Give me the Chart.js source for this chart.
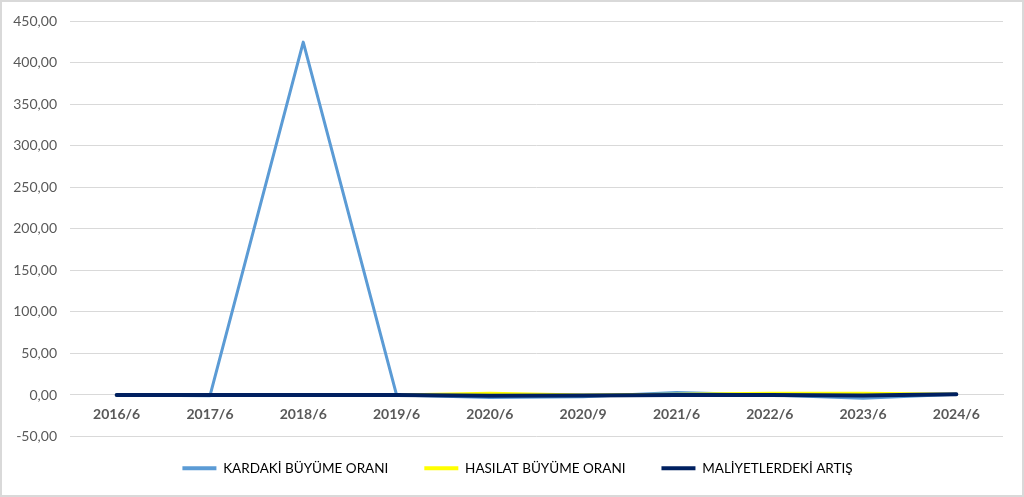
<!DOCTYPE html>
<html>
<head>
<meta charset="utf-8">
<script src="https://cdn.jsdelivr.net/npm/chart.js@4.4.1/dist/chart.umd.min.js"></script>
<style>
    html, body { margin: 0; padding: 0; background: #fff; }
    canvas { display: block; }
</style>
</head>
<body>
<canvas id="growthChart" width="1024" height="497"></canvas>
<script>
// --- data ---
const periods = ['2016/6', '2017/6', '2018/6', '2019/6', '2020/6', '2020/9', '2021/6', '2022/6', '2023/6', '2024/6'];
const kardakiBuyume = [0, -1, 425, 0, -3, -2, 3, 0, -4, 1];
const hasilatBuyume = [0, 0, 0, 0, 2, 0, 1, 2, 2, 1];
const maliyetArtis = [0, 0, 0, 0, -1, -0.5, 0, 0, -0.5, 1];
const yMin = -50;
const yMax = 450;
const yStep = 50;

const seriesNames = ['KARDAKİ BÜYÜME ORANI', 'HASILAT BÜYÜME ORANI', 'MALİYETLERDEKİ ARTIŞ'];
const seriesColors = ['#5B9BD5', '#FFFF00', '#002060'];

// white background + thin grey frame like the exported picture
const framePlugin = {
    id: 'frame',
    beforeDraw(chart) {
        const ctx = chart.ctx;
        ctx.save();
        ctx.fillStyle = '#ffffff';
        ctx.fillRect(0, 0, chart.width, chart.height);
        ctx.strokeStyle = '#d9d9d9';
        ctx.lineWidth = 2;
        ctx.strokeRect(1, 1, chart.width - 2, chart.height - 2);
        ctx.restore();
    }
};

// pull the legend row up a little (padding also drives the gap between items)
const legendNudge = {
    id: 'legendNudge',
    afterLayout(chart) {
        if (chart.legend) {
            chart.legend.top -= 11;
            chart.legend.bottom -= 11;
            chart.legend.left += 16;
            chart.legend.right += 16;
        }
    }
};

const commaFormat = (v) => Number(v).toFixed(2).replace('.', ',');

new Chart(document.getElementById('growthChart'), {
    type: 'line',
    data: {
        labels: periods,
        datasets: [
            { label: seriesNames[0], data: kardakiBuyume, borderColor: seriesColors[0], backgroundColor: seriesColors[0], borderWidth: 3, order: 3 },
            { label: seriesNames[1], data: hasilatBuyume, borderColor: seriesColors[1], backgroundColor: seriesColors[1], borderWidth: 3, order: 2 },
            { label: seriesNames[2], data: maliyetArtis, borderColor: seriesColors[2], backgroundColor: seriesColors[2], borderWidth: 4, order: 1 }
        ]
    },
    options: {
        responsive: false,
        animation: false,
        devicePixelRatio: 1,
        elements: {
            point: { radius: 0, hoverRadius: 0 },
            line: { tension: 0, borderCapStyle: 'round', borderJoinStyle: 'round', fill: false }
        },
        layout: { padding: { top: 19, right: 21, bottom: 1, left: 0 } },
        scales: {
            x: {
                position: { y: 0 },
                offset: true,
                grid: { display: false, drawTicks: false },
                border: { display: true, color: '#d9d9d9' },
                ticks: {
                    padding: 11,
                    color: '#595959',
                    maxRotation: 0,
                    autoSkip: false,
                    font: { family: 'Lato', size: 14, weight: 'bold' }
                }
            },
            y: {
                min: yMin,
                max: yMax,
                afterFit(scale) { scale.width = 70; },
                grid: { color: '#d9d9d9', lineWidth: 1, drawTicks: false },
                border: { display: false },
                ticks: {
                    stepSize: yStep,
                    padding: 13,
                    color: '#595959',
                    font: { family: 'Lato', size: 14 },
                    callback: (v) => commaFormat(v)
                }
            }
        },
        plugins: {
            tooltip: { enabled: false },
            legend: {
                position: 'bottom',
                labels: {
                    boxWidth: 34,
                    boxHeight: 4,
                    padding: 36,
                    color: '#595959',
                    font: { family: 'Lato', size: 13.5 },
                    sort: (a, b) => a.datasetIndex - b.datasetIndex,
                    generateLabels(chart) {
                        return chart.data.datasets.map((ds, i) => ({
                            text: ds.label,
                            fillStyle: ds.borderColor,
                            strokeStyle: ds.borderColor,
                            lineWidth: 0,
                            datasetIndex: i,
                            hidden: false
                        }));
                    }
                }
            }
        }
    },
    plugins: [framePlugin, legendNudge]
});
</script>
</body>
</html>
